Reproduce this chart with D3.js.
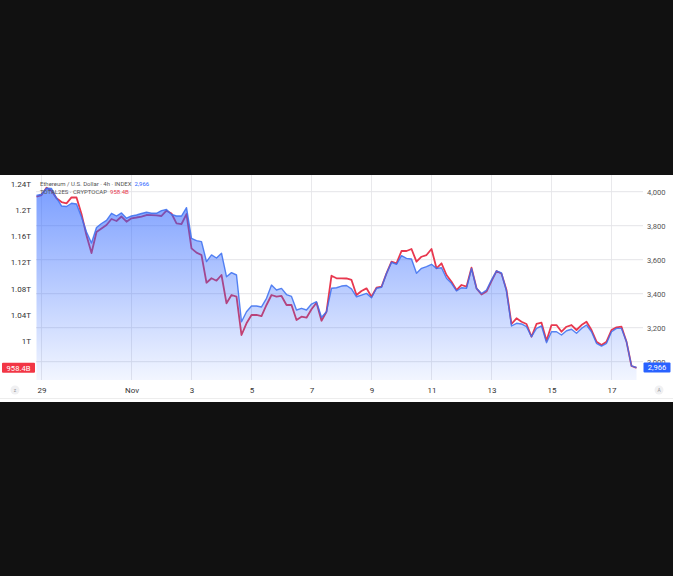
<!DOCTYPE html>
<html>
<head>
<meta charset="utf-8">
<script src="https://cdn.jsdelivr.net/npm/d3@7"></script>
<style>
  html, body { margin: 0; padding: 0; background: #111111; }
  svg { display: block; }
  text { font-family: Roboto, "Noto Sans", sans-serif; }
</style>
</head>
<body>
<script>
var width = 673;
var height = 576;

// 4h candles, first one at Oct 28 2025 20:00
var startTime = new Date(2025, 9, 28, 20);

// ETH / USD close (right scale)
var ethValues = [
  3978, 3985, 4020, 4019, 3963, 3916, 3913, 3932, 3928, 3851,
  3763, 3698, 3789, 3813, 3831, 3873, 3857, 3875, 3844, 3857,
  3863, 3872, 3879, 3873, 3873, 3889, 3895, 3866, 3857, 3857,
  3906, 3726, 3712, 3706, 3589, 3628, 3610, 3638, 3500, 3524,
  3510, 3235, 3294, 3328, 3328, 3322, 3373, 3451, 3422, 3431,
  3395, 3384, 3304, 3314, 3304, 3339, 3353, 3261, 3294, 3432,
  3435, 3445, 3448, 3428, 3382, 3392, 3402, 3376, 3432, 3438,
  3520, 3585, 3573, 3624, 3608, 3604, 3520, 3549, 3559, 3573,
  3549, 3553, 3491, 3461, 3416, 3435, 3432, 3549, 3432, 3401,
  3422, 3481, 3534, 3522, 3416, 3210, 3226, 3222, 3206, 3147,
  3196, 3210, 3112, 3176, 3176, 3157, 3182, 3191, 3167, 3196,
  3216, 3176, 3108, 3092, 3108, 3176, 3196, 3196, 3118, 2975,
  2966
];

// TOTAL2ES market cap in trillions (left scale)
var total2Values = [
  1.2205, 1.2231, 1.2343, 1.2297, 1.2181, 1.2124, 1.2104, 1.2196, 1.2193, 1.1940,
  1.1611, 1.1343, 1.1665, 1.1718, 1.1772, 1.1864, 1.1833, 1.1902, 1.1822, 1.1874,
  1.1887, 1.1902, 1.1925, 1.1922, 1.1920, 1.1910, 1.1991, 1.1948, 1.1798, 1.1787,
  1.1940, 1.1415, 1.1348, 1.1312, 1.0888, 1.0956, 1.0919, 1.1006, 1.0573, 1.0700,
  1.0674, 1.0087, 1.0266, 1.0394, 1.0394, 1.0378, 1.0547, 1.0700, 1.0674, 1.0685,
  1.0547, 1.0547, 1.0317, 1.0368, 1.0352, 1.0481, 1.0582, 1.0306, 1.0444, 1.0995,
  1.0956, 1.0956, 1.0953, 1.0930, 1.0700, 1.0761, 1.0802, 1.0674, 1.0812, 1.0827,
  1.1032, 1.1210, 1.1185, 1.1374, 1.1374, 1.1404, 1.1210, 1.1286, 1.1312, 1.1404,
  1.1109, 1.1185, 1.1006, 1.0904, 1.0776, 1.0853, 1.0827, 1.1118, 1.0802, 1.0708,
  1.0753, 1.0914, 1.1067, 1.1026, 1.0776, 1.0256, 1.0343, 1.0291, 1.0256, 1.0061,
  1.0256, 1.0276, 1.0000, 1.0240, 1.0240, 1.0138, 1.0214, 1.0240, 1.0164, 1.0240,
  1.0291, 1.0164, 0.9985, 0.9934, 0.9985, 1.0164, 1.0205, 1.0214, 0.9985, 0.9613,
  0.9584
];

var leftTicks = [1.0, 1.04, 1.08, 1.12, 1.16, 1.2, 1.24];
var leftTickLabels = ['1T', '1.04T', '1.08T', '1.12T', '1.16T', '1.2T', '1.24T'];
var rightTicks = [3000, 3200, 3400, 3600, 3800, 4000];
var xTickDates = [
  new Date(2025, 9, 29), new Date(2025, 10, 1), new Date(2025, 10, 3),
  new Date(2025, 10, 5), new Date(2025, 10, 7), new Date(2025, 10, 9),
  new Date(2025, 10, 11), new Date(2025, 10, 13), new Date(2025, 10, 15),
  new Date(2025, 10, 17)
];
var xTickLabels = ['29', 'Nov', '3', '5', '7', '9', '11', '13', '15', '17'];

var legendEth = 'Ethereum / U.S. Dollar \u00b7 4h \u00b7 INDEX';
var legendTotal = 'TOTAL2ES \u00b7 CRYPTOCAP';
var lastEthLabel = '2,966';
var lastTotalLabel = '958.4B';

var panel = { top: 175, bottom: 402 };
var plot = { left: 36, right: 643, top: 175, bottom: 380 };

var data = ethValues.map(function(v, i) {
  return { t: d3.timeHour.offset(startTime, 4 * i), eth: v, total: total2Values[i] };
});

var x = d3.scaleTime()
    .domain([new Date(2025, 9, 29), new Date(2025, 10, 17)])
    .range([41.5, 611.5]);
var yRight = d3.scaleLinear().domain([3000, 4000]).range([361.7, 191.7]);
var yLeft = d3.scaleLinear().domain([1.0, 1.24]).range([340.7, 184]);

var svg = d3.select('body').append('svg')
    .attr('width', width)
    .attr('height', height);

svg.append('rect')
    .attr('x', 0).attr('y', panel.top)
    .attr('width', width).attr('height', panel.bottom - panel.top)
    .attr('fill', '#ffffff');

var defs = svg.append('defs');
defs.append('clipPath').attr('id', 'plotclip')
  .append('rect')
    .attr('x', plot.left).attr('y', plot.top)
    .attr('width', plot.right - plot.left).attr('height', plot.bottom - plot.top);

var grad = defs.append('linearGradient')
    .attr('id', 'areafill')
    .attr('gradientUnits', 'userSpaceOnUse')
    .attr('x1', 0).attr('y1', 185).attr('x2', 0).attr('y2', plot.bottom);
grad.append('stop').attr('offset', '0%').attr('stop-color', '#2962ff').attr('stop-opacity', 0.62);
grad.append('stop').attr('offset', '100%').attr('stop-color', '#2962ff').attr('stop-opacity', 0.06);

// grid
var grid = svg.append('g');
grid.selectAll('line.v')
    .data(xTickDates)
  .enter().append('line')
    .attr('class', 'v')
    .attr('x1', function(d) { return x(d); })
    .attr('x2', function(d) { return x(d); })
    .attr('y1', plot.top).attr('y2', plot.bottom)
    .attr('stroke', '#e9e9ec').attr('stroke-width', 1);
grid.selectAll('line.h')
    .data(rightTicks)
  .enter().append('line')
    .attr('class', 'h')
    .attr('x1', plot.left).attr('x2', plot.right)
    .attr('y1', function(d) { return yRight(d); })
    .attr('y2', function(d) { return yRight(d); })
    .attr('stroke', '#e4e4e8').attr('stroke-width', 1);

var chart = svg.append('g').attr('clip-path', 'url(#plotclip)');

// compare line first, the area is painted over it
chart.append('path')
    .datum(data)
    .attr('fill', 'none')
    .attr('stroke', '#e8384f')
    .attr('stroke-width', 1.8)
    .attr('stroke-linejoin', 'round')
    .attr('d', d3.line()
      .x(function(d) { return x(d.t); })
      .y(function(d) { return yLeft(d.total); }));

chart.append('path')
    .datum(data)
    .attr('fill', 'url(#areafill)')
    .attr('d', d3.area()
      .x(function(d) { return x(d.t); })
      .y0(plot.bottom)
      .y1(function(d) { return yRight(d.eth); }));

chart.append('path')
    .datum(data)
    .attr('fill', 'none')
    .attr('stroke', '#3b6ff0')
    .attr('stroke-opacity', 0.85)
    .attr('stroke-width', 1.4)
    .attr('stroke-linejoin', 'round')
    .attr('d', d3.line()
      .x(function(d) { return x(d.t); })
      .y(function(d) { return yRight(d.eth); }));

// left axis
var leftAxis = svg.append('g')
    .attr('transform', 'translate(31,0)')
    .call(d3.axisLeft(yLeft)
      .tickValues(leftTicks)
      .tickSize(0)
      .tickPadding(0)
      .tickFormat(function(d, i) { return leftTickLabels[i]; }));
leftAxis.select('.domain').remove();
leftAxis.selectAll('text')
    .attr('fill', '#333')
    .style('font-size', '8px')
    .style('font-family', 'Roboto, "Noto Sans", sans-serif');

// right axis
var rightAxis = svg.append('g')
    .attr('transform', 'translate(647,0)')
    .call(d3.axisRight(yRight)
      .tickValues(rightTicks)
      .tickSize(0)
      .tickPadding(0)
      .tickFormat(d3.format(',')));
rightAxis.select('.domain').remove();
rightAxis.selectAll('text')
    .attr('fill', '#555')
    .style('font-size', '7.6px')
    .style('font-family', 'Roboto, "Noto Sans", sans-serif');

// time axis
var timeAxis = svg.append('g')
    .attr('transform', 'translate(0,' + plot.bottom + ')')
    .call(d3.axisBottom(x)
      .tickValues(xTickDates)
      .tickSize(0)
      .tickPadding(7)
      .tickFormat(function(d, i) { return xTickLabels[i]; }));
timeAxis.select('.domain').remove();
timeAxis.selectAll('text')
    .attr('fill', '#333')
    .style('font-size', '8px')
    .style('font-family', 'Roboto, "Noto Sans", sans-serif');

svg.append('line')
    .attr('x1', 0).attr('x2', width)
    .attr('y1', 398.5).attr('y2', 398.5)
    .attr('stroke', '#ededed');

// legend
var legend = svg.append('g').style('font-size', '6px');
var l1 = legend.append('text').attr('x', 40).attr('y', 185.5).attr('fill', '#555');
l1.append('tspan').text(legendEth);
l1.append('tspan').attr('dx', 3).attr('fill', '#2962ff').text(lastEthLabel);
var l2 = legend.append('text').attr('x', 40).attr('y', 194).attr('fill', '#555');
l2.append('tspan').text(legendTotal);
l2.append('tspan').attr('dx', 3).attr('fill', '#e8384f').text(lastTotalLabel);

// last value badges
var last = data[data.length - 1];
svg.append('rect')
    .attr('x', 2).attr('y', yLeft(last.total) - 5)
    .attr('width', 33).attr('height', 10).attr('rx', 1)
    .attr('fill', '#f23645');
svg.append('text')
    .attr('x', 18.5).attr('y', yLeft(last.total) + 2.8)
    .attr('text-anchor', 'middle')
    .attr('fill', '#fff').style('font-size', '7.6px')
    .text(lastTotalLabel);
svg.append('rect')
    .attr('x', 643.5).attr('y', yRight(last.eth) - 5)
    .attr('width', 27).attr('height', 10).attr('rx', 1)
    .attr('fill', '#2962ff');
svg.append('text')
    .attr('x', 657).attr('y', yRight(last.eth) + 2.8)
    .attr('text-anchor', 'middle')
    .attr('fill', '#fff').style('font-size', '7.6px')
    .text(lastEthLabel);

// scale mode buttons
var buttons = [{ cx: 15, label: 'z' }, { cx: 659, label: 'A' }];
var btn = svg.selectAll('g.btn')
    .data(buttons)
  .enter().append('g')
    .attr('class', 'btn')
    .attr('transform', function(d) { return 'translate(' + d.cx + ',390)'; });
btn.append('circle').attr('r', 4.5).attr('fill', '#f0f0f2');
btn.append('text')
    .attr('text-anchor', 'middle').attr('y', 2)
    .attr('fill', '#999').style('font-size', '5px')
    .text(function(d) { return d.label; });
</script>
</body>
</html>
